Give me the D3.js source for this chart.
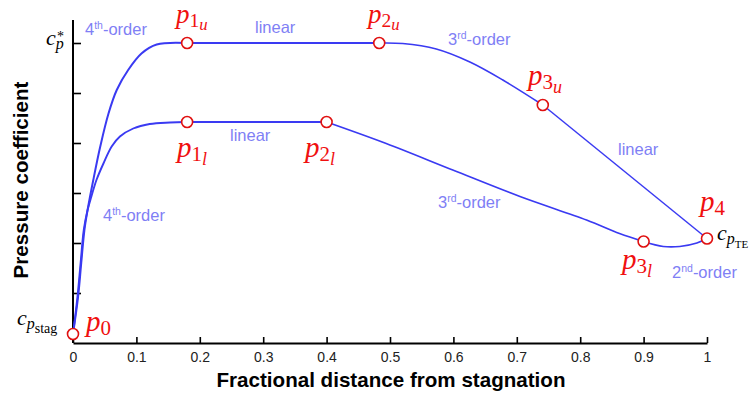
<!DOCTYPE html>
<html><head><meta charset="utf-8">
<script src="https://cdn.jsdelivr.net/npm/d3@7"></script>
<style>body{margin:0;background:#fff}svg{display:block}</style>
</head><body><svg id="c" width="752" height="398"></svg>
<script>
// ---- data ----
const xTicks = [0, 0.1, 0.2, 0.3, 0.4, 0.5, 0.6, 0.7, 0.8, 0.9, 1];
const xTickLabels = ["0", "0.1", "0.2", "0.3", "0.4", "0.5", "0.6", "0.7", "0.8", "0.9", "1"];
const yTicks = [1, 2, 3, 4, 5, 6];
const upper4th = [[0,0.18],[0.008,0.92],[0.013,1.6],[0.018,2.26],[0.023,2.66],[0.032,3.26],[0.043,3.93],[0.056,4.59],[0.069,5.06],[0.087,5.46],[0.108,5.79],[0.132,5.97],[0.18,6.0]];
const upperLinear1 = [[0.18,6.0],[0.483,6.0]];
const upper3rd = [[0.483,6.0],[0.52,5.99],[0.573,5.88],[0.626,5.62],[0.678,5.26],[0.741,4.76]];
const upperLinear2 = [[0.741,4.76],[1,2.09]];
const lower4th = [[0,0.18],[0.007,0.92],[0.012,1.6],[0.017,2.26],[0.023,2.66],[0.029,2.93],[0.037,3.26],[0.048,3.59],[0.061,3.93],[0.074,4.13],[0.095,4.29],[0.121,4.38],[0.153,4.41],[0.18,4.42]];
const lowerLinear = [[0.18,4.42],[0.4,4.42]];
const lower3rd = [[0.4,4.42],[0.494,3.99],[0.599,3.46],[0.705,2.93],[0.81,2.46],[0.862,2.19],[0.9,2.03]];
const lower2nd = [[0.9,2.03],[0.931,1.93],[0.957,1.93],[0.984,2.0],[1,2.09]];
const pointNames = ["p0","p1u","p2u","p3u","p4","p1l","p2l","p3l"];
const pointX = [0, 0.18, 0.483, 0.741, 1, 0.18, 0.4, 0.9];
const pointY = [0.18, 6.0, 6.0, 4.76, 2.09, 4.42, 4.42, 2.03];

// ---- scales ----
const svg = d3.select("#c");
const x = d3.scaleLinear().domain([0, 1]).range([73, 707]);
const y = d3.scaleLinear().domain([0, 6]).range([343, 43]);
const yTop = 20;
const sans = "Liberation Sans, Arial, sans-serif";

// axes
const xAxis = d3.axisBottom(x).tickValues(xTicks).tickFormat((d,i)=>xTickLabels[i]).tickSizeInner(-6).tickSizeOuter(0).tickPadding(9);
const gx = svg.append("g").attr("transform","translate(0,343)").call(xAxis);
gx.select(".domain").attr("stroke","#000").attr("stroke-width",2);
gx.selectAll(".tick line").attr("stroke","#000").attr("stroke-width",1.6);
gx.selectAll(".tick text").attr("font-family",sans).attr("font-size",14).attr("fill","#222");

const yAxis = d3.axisLeft(y).tickValues(yTicks).tickFormat("").tickSizeInner(-8).tickSizeOuter(0);
const gy = svg.append("g").attr("transform","translate(73,0)").call(yAxis);
gy.select(".domain").attr("d", `M0,${yTop}V343`).attr("stroke","#000").attr("stroke-width",2);
gy.selectAll(".tick line").attr("stroke","#000").attr("stroke-width",1.6);

// axis titles
svg.append("text").attr("x",391).attr("y",387).attr("text-anchor","middle")
  .attr("font-family",sans).attr("font-weight","bold").attr("font-size",20.6)
  .text("Fractional distance from stagnation");
svg.append("text").attr("transform","translate(28,180) rotate(-90)").attr("text-anchor","middle")
  .attr("font-family",sans).attr("font-weight","bold").attr("font-size",20.6)
  .text("Pressure coefficient");

// curves
const line = d3.line().x(d=>x(d[0])).y(d=>y(d[1])).curve(d3.curveCatmullRom.alpha(0.5));
const lineL = d3.line().x(d=>x(d[0])).y(d=>y(d[1]));
const blue = "#3a3af2";
[[upper4th,line,2],[upperLinear1,lineL,2],[upper3rd,line,1.6],[upperLinear2,lineL,1.5],
 [lower4th,line,1.9],[lowerLinear,lineL,2],[lower3rd,line,1.7],[lower2nd,line,1.7]].forEach(([d,g,w])=>{
  svg.append("path").attr("d",g(d)).attr("fill","none").attr("stroke",blue).attr("stroke-width",w).attr("stroke-linejoin","round");
});

// markers
pointNames.forEach((n,i)=>{
  svg.append("circle").attr("cx",x(pointX[i])).attr("cy",y(pointY[i])).attr("r",5.5)
    .attr("fill","#fff").attr("stroke","#e01010").attr("stroke-width",1.6);
});

// segment annotations
const annoColor = "#7f7ff5";
const annos = [
  {t:"4", s:"th", r:"-order", x:85, y:35},
  {t:"linear", s:"", r:"", x:255, y:33},
  {t:"3", s:"rd", r:"-order", x:448, y:45},
  {t:"linear", s:"", r:"", x:618, y:155},
  {t:"linear", s:"", r:"", x:230, y:141},
  {t:"4", s:"th", r:"-order", x:103, y:221},
  {t:"3", s:"rd", r:"-order", x:438, y:208},
  {t:"2", s:"nd", r:"-order", x:672, y:278}
];
annos.forEach(a=>{
  const t = svg.append("text").attr("x",a.x).attr("y",a.y).attr("fill",annoColor)
    .attr("font-family",sans).attr("font-size",16.5);
  t.append("tspan").text(a.t);
  if (a.s) {
    t.append("tspan").attr("font-size",10.5).attr("dy",-6).text(a.s);
    t.append("tspan").attr("dy",6).text(a.r);
  }
});

// point labels (red math)
const mathFont = "Liberation Serif, DejaVu Serif, serif";
const red = "#f01010";
function pLabel(xp, yp, num, sub, fs) {
  const k = fs / 29;
  const t = svg.append("text").attr("x",xp).attr("y",yp).attr("fill",red)
    .attr("font-family",mathFont).attr("font-style","italic").attr("font-size",fs);
  t.append("tspan").text("p");
  t.append("tspan").attr("font-style","normal").attr("font-size",21*k).attr("dy",4*k).text(num);
  if (sub) t.append("tspan").attr("font-size",18*k).attr("dy",4*k).text(sub);
}
pLabel(176, 23, "1", "u", 27);
pLabel(368, 23, "2", "u", 27);
pLabel(528, 85, "3", "u", 29);
pLabel(700, 211, "4", "", 29);
pLabel(177, 157, "1", "l", 29);
pLabel(305, 157, "2", "l", 29);
pLabel(622, 269, "3", "l", 29);
pLabel(86, 331, "0", "", 29);

// axis math labels (black)
function cLabel(xp, yp, sub, subsub, ssz) {
  const t = svg.append("text").attr("x",xp).attr("y",yp).attr("fill","#000")
    .attr("font-family",mathFont).attr("font-style","italic").attr("font-size",22);
  t.append("tspan").text("c");
  t.append("tspan").attr("font-size",16).attr("dy",4).text(sub);
  if (subsub) t.append("tspan").attr("font-style","normal").attr("font-size",ssz).attr("dy",4).text(subsub);
  return t;
}
cLabel(46, 45, "p", "", 0);
svg.append("text").attr("x",57).attr("y",41).attr("fill","#000")
  .attr("font-family",mathFont).attr("font-size",14).text("*");
cLabel(17, 325, "p", "stag", 14);
cLabel(717, 240, "p", "TE", 11);
</script></body></html>
